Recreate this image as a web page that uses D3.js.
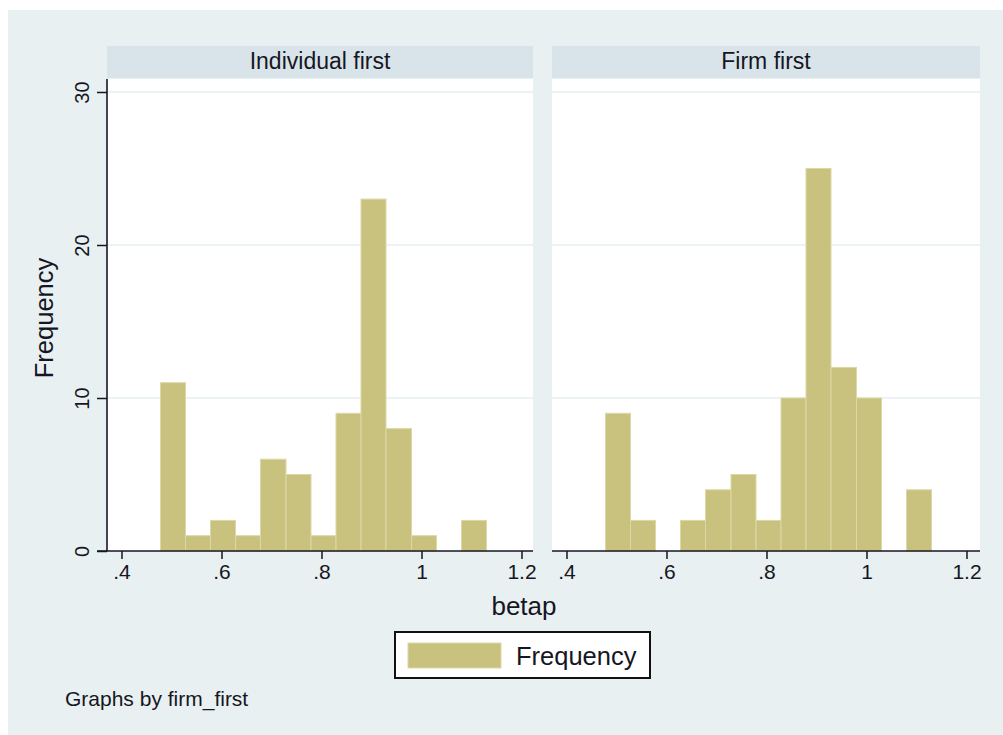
<!DOCTYPE html>
<html>
<head>
<meta charset="utf-8">
<script src="https://cdn.jsdelivr.net/npm/d3@7"></script>
<style>
  html, body { margin: 0; padding: 0; background: #ffffff; }
  svg { display: block; font-family: "Liberation Sans", Arial, sans-serif; }
</style>
</head>
<body>
<svg id="chart" width="1003" height="735"></svg>
<script>
// Histogram of betap, split by firm_first
const panelTitles = ["Individual first", "Firm first"];
const binEdges = [0.478, 0.528, 0.578, 0.628, 0.678, 0.729, 0.779, 0.829, 0.879, 0.929, 0.980, 1.030, 1.080, 1.130];
const countsIndividualFirst = [11, 1, 2, 1, 6, 5, 1, 9, 23, 8, 1, 0, 2];
const countsFirmFirst = [9, 2, 0, 2, 4, 5, 2, 10, 25, 12, 10, 0, 4];
const xTicks = [0.4, 0.6, 0.8, 1.0, 1.2];
const xTickLabels = [".4", ".6", ".8", "1", "1.2"];
const yTicks = [0, 10, 20, 30];
const seriesCounts = [countsIndividualFirst, countsFirmFirst];

const svg = d3.select("#chart");
const ink = "#161622";
const barFill = "#c9c27f";
const barEdge = "#dcd8a6";

// outer graph region
svg.append("rect").attr("x", 8).attr("y", 10).attr("width", 995).attr("height", 725).attr("fill", "#e8f0f2");

const plotTop = 79, plotBottom = 551;
const headerTop = 46, headerBottom = 78;
const panels = [{ x0: 107, x1: 533 }, { x0: 552, x1: 980 }];

const y = d3.scaleLinear().domain([0, 30]).range([plotBottom, 92]);

panels.forEach((p, i) => {
  const g = svg.append("g");
  // header strip
  g.append("rect").attr("x", p.x0).attr("y", headerTop).attr("width", p.x1 - p.x0).attr("height", headerBottom - headerTop).attr("fill", "#d8e4ea");
  g.append("text").attr("x", (p.x0 + p.x1) / 2).attr("y", 69).attr("text-anchor", "middle")
    .attr("font-size", 23).attr("fill", ink).text(panelTitles[i]);

  // plot region
  g.append("rect").attr("x", p.x0).attr("y", plotTop).attr("width", p.x1 - p.x0).attr("height", plotBottom - plotTop).attr("fill", "#ffffff");

  const x = d3.scaleLinear().domain([0.4, 1.2]).range([p.x0 + 14.5, p.x0 + 414.5]);

  // horizontal gridlines
  g.selectAll("line.grid").data(yTicks.filter(t => t > 0)).enter().append("line")
    .attr("x1", p.x0).attr("x2", p.x1)
    .attr("y1", d => y(d)).attr("y2", d => y(d))
    .attr("stroke", "#e6eff2").attr("stroke-width", 1.5);

  // bars
  const counts = seriesCounts[i];
  const bins = counts.map((c, k) => ({ lo: binEdges[k], hi: binEdges[k + 1], c }));
  g.selectAll("rect.bar").data(bins.filter(b => b.c > 0)).enter().append("rect")
    .attr("x", d => x(d.lo)).attr("width", d => x(d.hi) - x(d.lo))
    .attr("y", d => y(d.c)).attr("height", d => y(0) - y(d.c))
    .attr("fill", barFill).attr("stroke", barEdge).attr("stroke-width", 1);

  // x axis
  const xAxis = d3.axisBottom(x).tickValues(xTicks).tickSize(8).tickPadding(5)
    .tickFormat((d, k) => xTickLabels[k]);
  const ax = g.append("g").attr("transform", `translate(0,${plotBottom})`).call(xAxis);
  ax.select(".domain").remove();
  ax.append("line").attr("x1", p.x0 - (i === 0 ? 10 : 0)).attr("x2", p.x1).attr("y1", 0).attr("y2", 0)
    .attr("stroke", ink).attr("stroke-width", 1.6);
  ax.selectAll(".tick line").attr("stroke", ink).attr("stroke-width", 1.5);
  ax.selectAll(".tick text").attr("font-size", 21).attr("fill", ink).attr("font-family", "Liberation Sans, Arial, sans-serif");
});

// y axis on the left panel
const yAxis = d3.axisLeft(y).tickValues(yTicks).tickSize(10).tickFormat(d3.format("d"));
const ay = svg.append("g").attr("transform", `translate(${panels[0].x0},0)`).call(yAxis);
ay.select(".domain").remove();
ay.append("line").attr("x1", 0).attr("x2", 0).attr("y1", plotTop).attr("y2", plotBottom)
  .attr("stroke", ink).attr("stroke-width", 1.6);
ay.selectAll(".tick line").attr("stroke", ink).attr("stroke-width", 1.5);
ay.selectAll(".tick text")
  .attr("font-size", 20).attr("fill", ink).attr("font-family", "Liberation Sans, Arial, sans-serif")
  .attr("x", null).attr("dy", null)
  .attr("text-anchor", "middle")
  .attr("transform", "translate(-18,0) rotate(-90)");

// axis titles
svg.append("text").attr("transform", "translate(53,318) rotate(-90)").attr("text-anchor", "middle")
  .attr("font-size", 25.5).attr("fill", ink).text("Frequency");
svg.append("text").attr("x", 524).attr("y", 615).attr("text-anchor", "middle")
  .attr("font-size", 26).attr("fill", ink).text("betap");

// legend
const lg = svg.append("g");
lg.append("rect").attr("x", 395).attr("y", 632).attr("width", 255).attr("height", 46)
  .attr("fill", "#ffffff").attr("stroke", "#111").attr("stroke-width", 2);
lg.append("rect").attr("x", 408).attr("y", 643).attr("width", 93).attr("height", 25)
  .attr("fill", barFill).attr("stroke", barEdge).attr("stroke-width", 1);
lg.append("text").attr("x", 516).attr("y", 665).attr("font-size", 25.5).attr("fill", ink).text("Frequency");

// note
svg.append("text").attr("x", 65).attr("y", 706).attr("font-size", 21).attr("fill", ink).text("Graphs by firm_first");
</script>
</body>
</html>
